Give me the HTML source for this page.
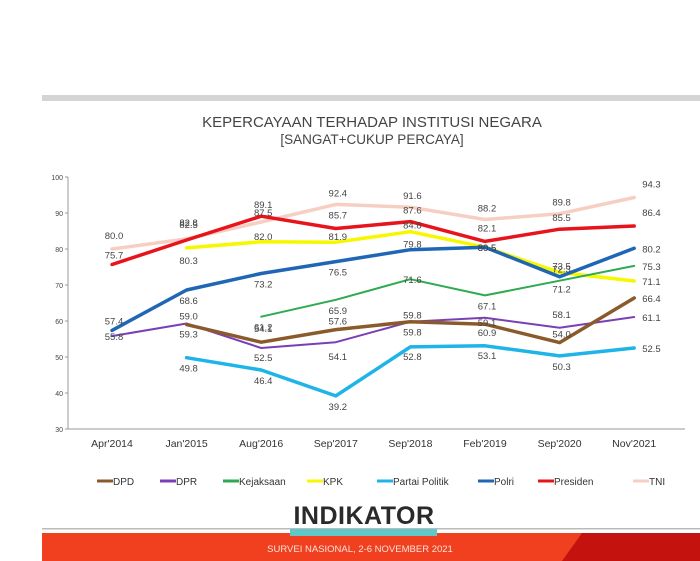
<!DOCTYPE html>
<html><head><meta charset="utf-8">
<style>
body{margin:0;width:700px;height:561px;background:#fff;overflow:hidden;font-family:"Liberation Sans",sans-serif;}
svg{position:absolute;left:0;top:0}
</style></head>
<body>
<svg id="chart" width="700" height="561">
  <rect x="42" y="95" width="658" height="6" fill="#d4d4d4"/>
  <text x="372" y="127" text-anchor="middle" font-size="15" fill="#444">KEPERCAYAAN TERHADAP INSTITUSI NEGARA</text>
  <text x="372" y="144" text-anchor="middle" font-size="13.5" fill="#444">[SANGAT+CUKUP PERCAYA]</text>
  <g id="axes"></g>
  <g id="lines"></g>
  <g id="labels"></g>
  <g id="legend"></g>
  <text x="364" y="524" text-anchor="middle" font-size="25" font-weight="bold" fill="#2a2a2a" letter-spacing="0.5">INDIKATOR</text>
  <rect x="42" y="528" width="658" height="1.5" fill="#bbb"/>
  <rect x="42" y="533" width="658" height="28" fill="#f0401f"/>
  <polygon points="582,533 700,533 700,561 562,561" fill="#c4120f"/>
  <rect x="290" y="529" width="147" height="7" fill="#62c7c7"/>
  <text x="360" y="552" text-anchor="middle" font-size="9.5" fill="#fde2da">SURVEI NASIONAL, 2-6 NOVEMBER 2021</text>
</svg>
<script>
const categories=["Apr'2014","Jan'2015","Aug'2016","Sep'2017","Sep'2018","Feb'2019","Sep'2020","Nov'2021"];
const yTicks=[30,40,50,60,70,80,90,100];
const seriesNames=["DPD","DPR","Kejaksaan","KPK","Partai Politik","Polri","Presiden","TNI"];
const dpd=[null,59.0,54.1,57.6,59.8,59.1,54.0,66.4];
const dpr=[55.8,59.3,52.5,54.1,59.8,60.9,58.1,61.1];
const kejaksaan=[null,null,61.2,65.9,71.6,67.1,71.2,75.3];
const kpk=[null,80.3,82.0,81.9,84.8,80.5,73.5,71.1];
const partai=[null,49.8,46.4,39.2,52.8,53.1,50.3,52.5];
const polri=[57.4,68.6,73.2,76.5,79.8,80.5,72.3,80.2];
const presiden=[75.7,82.5,89.1,85.7,87.6,82.1,85.5,86.4];
const tni=[80.0,82.8,87.5,92.4,91.6,88.2,89.8,94.3];
const seriesData=[dpd,dpr,kejaksaan,kpk,partai,polri,presiden,tni];
const colors=["#8b5a2b","#7b3fb5","#2eaa50","#f7f700","#1eb4e8","#1f66b5","#e8141b","#f6cfc2"];
const widths=[3.5,2,2,3.5,3.5,3.5,3.5,3.5];
const drawOrder=[7,3,6,5,2,1,0,4];
const NS="http://www.w3.org/2000/svg";
const x0=112,dx=74.6,yTop=177,yBot=429;
const X=i=>x0+i*dx;
const Y=v=>yBot-(v-30)/70*(yBot-yTop);
function mk(tag,attrs,parent){const e=document.createElementNS(NS,tag);for(const k in attrs)e.setAttribute(k,attrs[k]);parent.appendChild(e);return e;}
const axes=document.getElementById('axes');
let yl=mk('line',{x1:68,y1:yTop,x2:68,y2:yBot,stroke:'#999','stroke-width':1},axes);


let xl=mk('line',{x1:68,y1:yBot,x2:685,y2:yBot,stroke:'#999','stroke-width':1},axes);


yTicks.forEach(t=>{
  let tx=mk('text',{x:63,y:Y(t)+3,'text-anchor':'end','font-size':7,fill:'#444'},axes);tx.textContent=t;
  
  
  let tk=mk('line',{x1:65,y1:Y(t),x2:68,y2:Y(t),stroke:'#999'},axes);
  
  
});
categories.forEach((c,i)=>{
  let tx=mk('text',{x:X(i),y:447,'text-anchor':'middle','font-size':10.5,fill:'#333'},axes);tx.textContent=c;
  
  
});
const lines=document.getElementById('lines'),labels=document.getElementById('labels');
const lblDy=[[0,-5,-10,-5,-3,2,-5,0],[0,14,13,18,14,18,-10,16],[0,0,14,14,0,14,12,0],[0,16,-2,-2,-3,0,-3,0],[0,14,14,14,13,13,14,14],[-6,14,14,14,-2,0,-4,0],[-6,-12,-8,-10,-8,-10,-8,-10],[-10,-13,-6,-8,-8,-8,-8,-10]];
drawOrder.forEach(s=>{
  const d=seriesData[s];let pts=[];
  d.forEach((v,i)=>{if(v!=null)pts.push(X(i).toFixed(1)+','+Y(v).toFixed(1));});
  let pl=mk('polyline',{points:pts.join(' '),fill:'none',stroke:colors[s],'stroke-width':widths[s],'stroke-linejoin':'round','stroke-linecap':'round'},lines);
  
  
});
seriesData.forEach((d,s)=>{
  d.forEach((v,i)=>{
    if(v==null)return;
    const last=i===d.length-1;
    let tx=mk('text',{x:last?X(i)+8:X(i)+2,y:Y(v)+(last?(s===7?-10:s===6?-10:4):lblDy[s][i]+(lblDy[s][i]===0?4:0)),'text-anchor':last?'start':'middle','font-size':9.5,fill:'#444'},labels);
    tx.textContent=v.toFixed(1);
    
    
  });
});
const legend=document.getElementById('legend');
const legX=[97,160,223,307,377,478,538,633];
seriesNames.forEach((n,s)=>{
  let g=mk('g',{},legend);
  
  
  mk('line',{x1:legX[s],y1:481,x2:legX[s]+16,y2:481,stroke:colors[s],'stroke-width':3},g);
  let tx=mk('text',{x:legX[s]+16,y:485,'font-size':10,fill:'#333'},g);tx.textContent=n;
});
</script>
</body></html>
